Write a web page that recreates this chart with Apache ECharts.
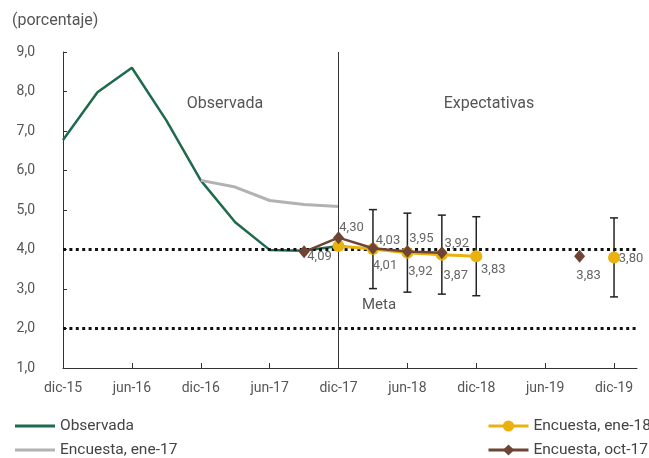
<!DOCTYPE html>
<html>
<head>
<meta charset="utf-8">
<script src="https://cdn.jsdelivr.net/npm/echarts@6/dist/echarts.min.js"></script>
<style>
html,body{margin:0;padding:0;background:#fff;}
#chart{width:649px;height:458px;}
</style>
</head>
<body>
<div id="chart"></div>
<script>
// ---- data ----
const monthNames = ['ene','feb','mar','abr','may','jun','jul','ago','sep','oct','nov','dic'];
const categories = [];
for (let i = 0; i <= 50; i++) {
  const m = (11 + i) % 12;
  const y = 15 + Math.floor((11 + i) / 12);
  categories.push(monthNames[m] + '-' + y);
}
const yTicks = [1, 2, 3, 4, 5, 6, 7, 8, 9];

const observedDates = ['dic-15','mar-16','jun-16','sep-16','dic-16','mar-17','jun-17','sep-17','dic-17'];
const observedValues = [6.77, 7.98, 8.60, 7.27, 5.75, 4.69, 3.99, 3.97, 4.09];

const ene17Dates = ['dic-16','mar-17','jun-17','sep-17','dic-17'];
const ene17Values = [5.75, 5.58, 5.24, 5.14, 5.09];

const ene18Dates = ['dic-17','mar-18','jun-18','sep-18','dic-18','jun-19','dic-19'];
const ene18Values = [4.09, 4.01, 3.92, 3.87, 3.83, null, 3.80];

const oct17Dates = ['sep-17','dic-17','mar-18','jun-18','sep-18','dic-18','sep-19'];
const oct17Values = [3.94, 4.30, 4.03, 3.95, 3.92, null, 3.83];

const rangeDates = ['mar-18','jun-18','sep-18','dic-18','dic-19'];
const rangeLow = [3.01, 2.92, 2.87, 2.83, 2.80];
const rangeHigh = [5.01, 4.92, 4.87, 4.83, 4.80];

const targetLines = [4, 2];
const splitDate = 'dic-17';

// ---- label placement (styling, not data) ----
const ene18LabelOffsets = [[-19, 11], [12, 17], [13, 19], [14, 21], [17, 14], null, [17, 1]];
const oct17LabelOffsets = [null, [13, -10], [15, -8], [14, -13], [15, -9], null, [9, 20]];

const fmt = v => v.toFixed(2).replace('.', ',');
const labelStyle = {color: '#666', fontSize: 13, fontFamily: 'Roboto'};

function pairs(dates, values, offsets) {
  return dates.map((d, i) => {
    const v = values[i];
    const item = {value: [d, v == null ? '-' : v]};
    if (offsets && offsets[i] && v != null) {
      item.label = Object.assign({show: true, position: 'inside', offset: offsets[i],
        formatter: () => fmt(v)}, labelStyle);
    }
    return item;
  });
}

const chart = echarts.init(document.getElementById('chart'));
const GREEN = '#1e6a4c', GRAY = '#b2b2b2', YELLOW = '#e9b20e', BROWN = '#6e4535';

const legendText = {color: '#444', fontSize: 15.5, fontFamily: 'Roboto'};
const lineIcon = 'path://M0,0 L40,0 L40,3 L0,3 Z';
const legendBase = {padding: 0, itemWidth: 40, textStyle: legendText, lineStyle: {width: 3}};

chart.setOption({
  animation: false,
  textStyle: {fontFamily: 'Roboto'},
  grid: {left: 63, right: 12, top: 52, bottom: 90},
  xAxis: {
    type: 'category',
    data: categories,
    boundaryGap: false,
    axisLine: {lineStyle: {color: '#333', width: 1}},
    axisTick: {inside: true, length: 5, lineStyle: {color: '#333'},
      interval: (i) => i % 6 === 0 && i <= 48},
    axisLabel: {interval: (i) => i % 6 === 0 && i <= 48, color: '#555', fontSize: 14, margin: 13},
    splitLine: {show: false}
  },
  yAxis: {
    type: 'value', min: yTicks[0], max: yTicks[yTicks.length - 1], interval: 1,
    axisLine: {show: true, lineStyle: {color: '#333', width: 1}},
    axisTick: {show: true, inside: true, length: 4, lineStyle: {color: '#333'}},
    axisLabel: {color: '#555', fontSize: 14, margin: 28, formatter: v => v.toFixed(1).replace('.', ',')},
    splitLine: {show: false}
  },
  legend: [
    Object.assign({data: [{name: 'Observada', icon: lineIcon}], left: 15, top: 418, itemHeight: 3}, legendBase),
    Object.assign({data: [{name: 'Encuesta, ene-17', icon: lineIcon}], left: 15, top: 442, itemHeight: 3}, legendBase),
    Object.assign({data: ['Encuesta, ene-18'], left: 487, top: 418, itemHeight: 14}, legendBase),
    Object.assign({data: ['Encuesta, oct-17'], left: 487, top: 442, itemHeight: 14}, legendBase)
  ],
  graphic: [
    {type: 'text', left: 12, top: 13, style: {text: '(porcentaje)', fill: '#555', fontSize: 16, fontFamily: 'Roboto'}},
    {type: 'text', x: 225, y: 104, style: {text: 'Observada', fill: '#555', fontSize: 16, fontFamily: 'Roboto', align: 'center', verticalAlign: 'middle'}},
    {type: 'text', x: 489, y: 104, style: {text: 'Expectativas', fill: '#555', fontSize: 16, fontFamily: 'Roboto', align: 'center', verticalAlign: 'middle'}},
    {type: 'text', x: 379, y: 305, style: {text: 'Meta', fill: '#555', fontSize: 15, fontFamily: 'Roboto', align: 'center', verticalAlign: 'middle'}}
  ],
  series: [
    {
      name: 'reference', type: 'line', data: [], silent: true,
      markLine: {
        silent: true, symbol: 'none', label: {show: false},
        data: targetLines.map(v => ({yAxis: v, lineStyle: {color: '#111', width: 3, type: [3, 3.4]}}))
          .concat([{xAxis: splitDate, lineStyle: {color: '#333', width: 1, type: 'solid'}}])
      }
    },
    {
      name: 'Observada', type: 'line', symbol: 'none', z: 3,
      lineStyle: {color: GREEN, width: 2.5}, itemStyle: {color: GREEN},
      data: pairs(observedDates, observedValues)
    },
    {
      name: 'Encuesta, ene-17', type: 'line', symbol: 'none', z: 3,
      lineStyle: {color: GRAY, width: 3}, itemStyle: {color: GRAY},
      data: pairs(ene17Dates, ene17Values)
    },
    {
      name: 'range', type: 'custom', z: 4, silent: true,
      data: rangeDates.map((d, i) => [d, rangeLow[i], rangeHigh[i]]),
      renderItem: (params, api) => {
        const x = api.value(0);
        const lo = api.coord([x, api.value(1)]);
        const hi = api.coord([x, api.value(2)]);
        const w = 4;
        const st = {stroke: '#222', lineWidth: 1.5};
        return {type: 'group', children: [
          {type: 'line', shape: {x1: lo[0], y1: lo[1], x2: hi[0], y2: hi[1]}, style: st},
          {type: 'line', shape: {x1: lo[0] - w, y1: lo[1], x2: lo[0] + w, y2: lo[1]}, style: st},
          {type: 'line', shape: {x1: hi[0] - w, y1: hi[1], x2: hi[0] + w, y2: hi[1]}, style: st}
        ]};
      }
    },
    {
      name: 'Encuesta, ene-18', type: 'line', symbol: 'circle', symbolSize: 12, z: 5,
      showAllSymbol: true,
      lineStyle: {color: YELLOW, width: 3}, itemStyle: {color: YELLOW},
      data: pairs(ene18Dates, ene18Values, ene18LabelOffsets)
    },
    {
      name: 'Encuesta, oct-17', type: 'line', symbol: 'diamond', symbolSize: [11, 13], z: 6,
      showAllSymbol: true,
      lineStyle: {color: BROWN, width: 2.5}, itemStyle: {color: BROWN},
      data: pairs(oct17Dates, oct17Values, oct17LabelOffsets)
    }
  ]
});
</script>
</body>
</html>
